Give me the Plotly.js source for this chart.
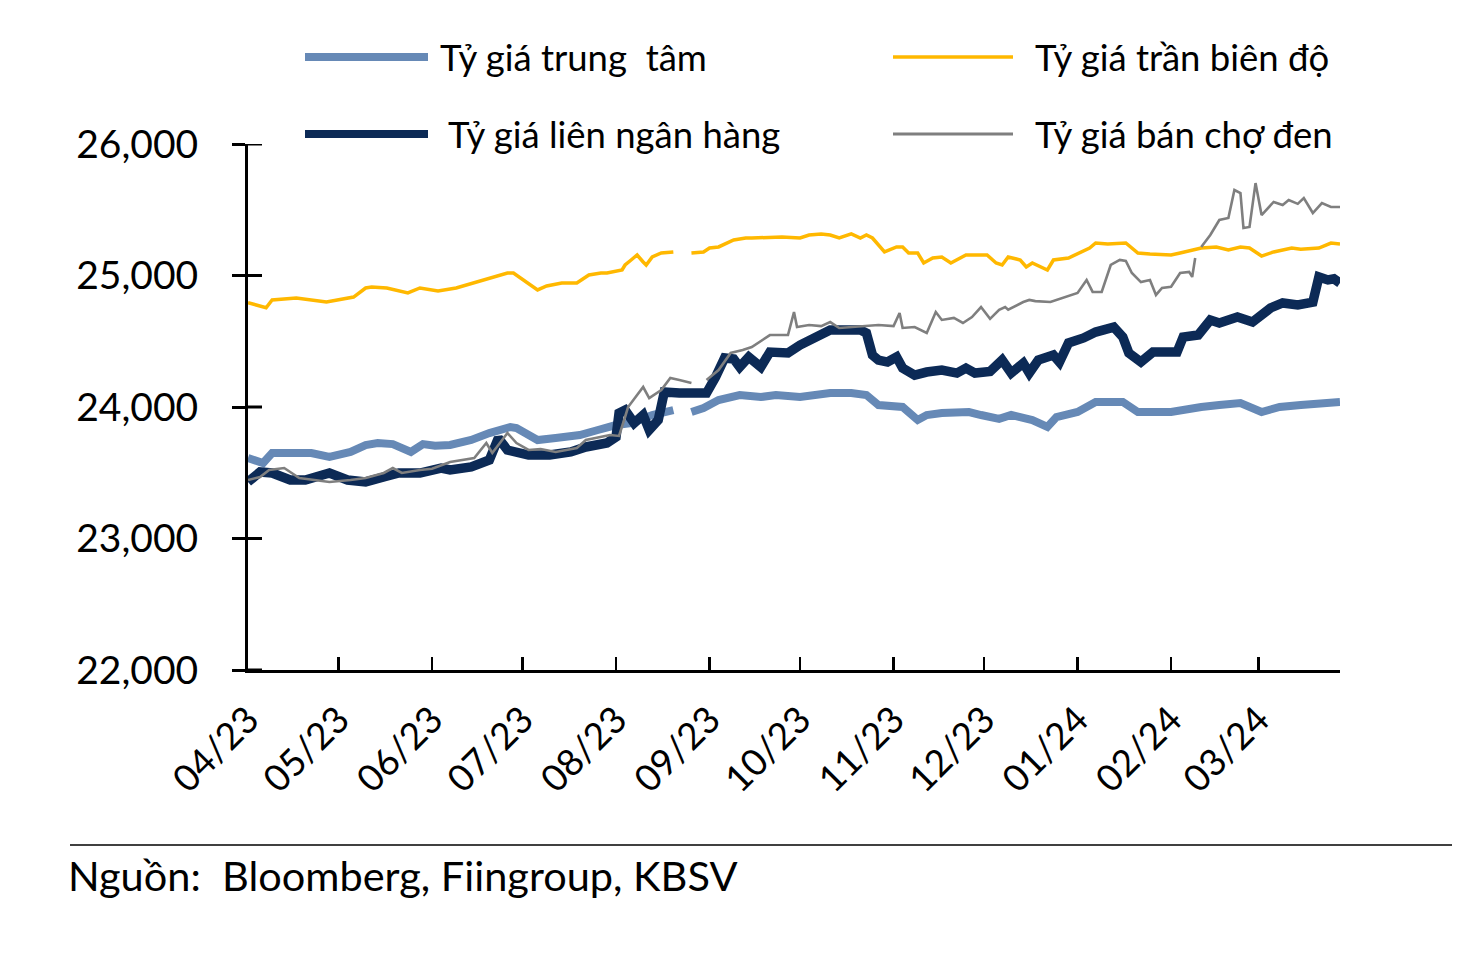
<!DOCTYPE html>
<html>
<head>
<meta charset="utf-8">
<script src="https://cdn.plot.ly/plotly-3.0.1.min.js"></script>
<style>
  html, body { margin: 0; padding: 0; background: #ffffff; }
  #chart { width: 1476px; height: 953px; }
</style>
</head>
<body>
<div id="chart"></div>
<script>
// Tỷ giá USD/VND, 04/2023 – 03/2024
const seriesNames = ["Tỷ giá trung  tâm", "Tỷ giá trần biên độ", "Tỷ giá liên ngân hàng", "Tỷ giá bán chợ đen"];
const sourceText = "Nguồn:  Bloomberg, Fiingroup, KBSV";
const yTickValues = [22000, 23000, 24000, 25000, 26000];

// Tỷ giá trung tâm
const centralDates = ["2023-04-01","2023-04-06","2023-04-09","2023-04-15","2023-04-22","2023-04-28","2023-05-05","2023-05-10","2023-05-14","2023-05-19","2023-05-25","2023-05-29","2023-06-02","2023-06-07","2023-06-14","2023-06-20","2023-06-27","2023-06-29","2023-07-06","2023-07-12","2023-07-20","2023-07-26","2023-08-01","2023-08-06","2023-08-13","2023-08-20","2023-08-23","2023-08-26","2023-08-30","2023-09-04","2023-09-11","2023-09-18","2023-09-23","2023-10-01","2023-10-08","2023-10-11","2023-10-18","2023-10-23","2023-10-27","2023-10-31","2023-11-04","2023-11-09","2023-11-12","2023-11-17","2023-11-22","2023-11-26","2023-11-30","2023-12-06","2023-12-10","2023-12-14","2023-12-17","2023-12-22","2023-12-25","2024-01-01","2024-01-07","2024-01-16","2024-01-21","2024-02-01","2024-02-04","2024-02-11","2024-02-17","2024-02-24","2024-03-02","2024-03-08","2024-03-15","2024-03-22","2024-03-28"];
const centralRate = [23612,23574,23650,23650,23650,23620,23658,23711,23726,23718,23658,23718,23705,23711,23749,23802,23848,23840,23749,23764,23787,23825,23863,23878,23939,23977,null,23962,23992,24053,24091,24076,24091,24076,24106,24106,24106,24091,24015,24000,24000,23901,23939,23954,23962,23962,23939,23910,23940,23924,23901,23848,23924,23962,24038,24038,23962,23962,23977,24000,24015,24030,23962,24000,24015,24030,24038];

// Tỷ giá trần biên độ
const ceilingDates = ["2023-04-01","2023-04-07","2023-04-09","2023-04-17","2023-04-27","2023-05-06","2023-05-10","2023-05-12","2023-05-17","2023-05-24","2023-05-28","2023-06-03","2023-06-09","2023-06-16","2023-06-26","2023-06-28","2023-07-06","2023-07-09","2023-07-14","2023-07-19","2023-07-23","2023-07-27","2023-07-29","2023-08-03","2023-08-04","2023-08-06","2023-08-08","2023-08-10","2023-08-11","2023-08-13","2023-08-16","2023-08-20","2023-08-23","2023-08-26","2023-08-30","2023-09-01","2023-09-04","2023-09-09","2023-09-13","2023-09-15","2023-09-21","2023-09-25","2023-10-01","2023-10-04","2023-10-08","2023-10-11","2023-10-14","2023-10-18","2023-10-21","2023-10-23","2023-10-25","2023-10-28","2023-10-29","2023-11-02","2023-11-04","2023-11-06","2023-11-09","2023-11-11","2023-11-14","2023-11-17","2023-11-20","2023-11-25","2023-11-28","2023-12-02","2023-12-05","2023-12-07","2023-12-09","2023-12-13","2023-12-15","2023-12-17","2023-12-22","2023-12-24","2023-12-29","2024-01-05","2024-01-07","2024-01-11","2024-01-17","2024-01-21","2024-01-25","2024-02-01","2024-02-04","2024-02-11","2024-02-16","2024-02-20","2024-02-24","2024-02-27","2024-03-02","2024-03-06","2024-03-12","2024-03-15","2024-03-21","2024-03-25","2024-03-28"];
const ceilingRate = [24793,24755,24814,24829,24798,24836,24905,24912,24905,24867,24905,24882,24905,24950,25019,25019,24890,24920,24943,24943,25004,25019,25019,25042,25080,25118,25156,25103,25080,25141,25171,25179,null,25171,25179,25209,25217,25270,25285,25285,25293,25293,25285,25308,25316,25308,25285,25316,25285,25308,25285,25209,25179,25217,25217,25171,25171,25095,25133,25141,25095,25156,25156,25156,25095,25080,25141,25118,25065,25095,25042,25118,25133,25209,25247,25240,25247,25171,25163,25156,25171,25209,25217,25194,25217,25209,25148,25179,25209,25200,25209,25247,25240];

// Tỷ giá liên ngân hàng
const interbankDates = ["2023-04-01","2023-04-05","2023-04-09","2023-04-15","2023-04-20","2023-04-28","2023-05-04","2023-05-10","2023-05-16","2023-05-21","2023-05-28","2023-06-04","2023-06-07","2023-06-14","2023-06-20","2023-06-22","2023-06-23","2023-06-26","2023-06-29","2023-07-03","2023-07-10","2023-07-17","2023-07-22","2023-07-29","2023-08-01","2023-08-02","2023-08-04","2023-08-07","2023-08-10","2023-08-12","2023-08-15","2023-08-17","2023-08-22","2023-08-29","2023-08-31","2023-09-03","2023-09-06","2023-09-09","2023-09-11","2023-09-14","2023-09-18","2023-09-21","2023-09-27","2023-10-01","2023-10-04","2023-10-08","2023-10-11","2023-10-21","2023-10-23","2023-10-25","2023-10-27","2023-10-30","2023-11-02","2023-11-04","2023-11-08","2023-11-12","2023-11-17","2023-11-22","2023-11-25","2023-11-28","2023-12-03","2023-12-07","2023-12-10","2023-12-14","2023-12-16","2023-12-19","2023-12-24","2023-12-26","2023-12-29","2024-01-03","2024-01-07","2024-01-13","2024-01-16","2024-01-18","2024-01-22","2024-01-26","2024-02-01","2024-02-03","2024-02-05","2024-02-10","2024-02-14","2024-02-17","2024-02-23","2024-02-28","2024-03-05","2024-03-09","2024-03-14","2024-03-19","2024-03-21","2024-03-24","2024-03-26","2024-03-28"];
const interbankRate = [23430,23506,23498,23445,23445,23498,23445,23430,23468,23498,23498,23536,23521,23544,23597,23696,23764,23673,23650,23635,23635,23658,23696,23726,23772,23954,23977,23878,23939,23825,23901,24114,24106,24106,24106,24228,24373,24365,24304,24380,24304,24418,24411,24471,24510,24563,24585,24585,24563,24395,24357,24342,24380,24296,24243,24266,24281,24258,24296,24258,24270,24357,24258,24334,24258,24357,24395,24342,24487,24525,24570,24608,24532,24411,24342,24418,24418,24418,24532,24547,24662,24639,24684,24646,24753,24791,24776,24798,24989,24966,24975,24943];

// Tỷ giá bán chợ đen
const blackMarketDates = ["2023-04-01","2023-04-05","2023-04-08","2023-04-13","2023-04-18","2023-04-24","2023-04-28","2023-05-05","2023-05-10","2023-05-16","2023-05-19","2023-05-22","2023-05-28","2023-06-01","2023-06-07","2023-06-15","2023-06-19","2023-06-21","2023-06-26","2023-06-29","2023-07-03","2023-07-07","2023-07-12","2023-07-19","2023-07-22","2023-07-30","2023-08-02","2023-08-04","2023-08-05","2023-08-10","2023-08-12","2023-08-16","2023-08-19","2023-08-22","2023-08-26","2023-08-28","2023-08-31","2023-09-04","2023-09-08","2023-09-12","2023-09-15","2023-09-21","2023-09-27","2023-09-29","2023-09-30","2023-10-04","2023-10-08","2023-10-11","2023-10-14","2023-10-19","2023-10-27","2023-11-01","2023-11-03","2023-11-04","2023-11-08","2023-11-12","2023-11-15","2023-11-17","2023-11-21","2023-11-24","2023-11-27","2023-11-30","2023-12-03","2023-12-06","2023-12-08","2023-12-09","2023-12-14","2023-12-16","2023-12-18","2023-12-23","2023-12-27","2024-01-01","2024-01-04","2024-01-06","2024-01-09","2024-01-12","2024-01-15","2024-01-17","2024-01-19","2024-01-22","2024-01-25","2024-01-27","2024-01-29","2024-02-01","2024-02-04","2024-02-07","2024-02-08","2024-02-09","2024-02-10","2024-02-11","2024-02-14","2024-02-17","2024-02-20","2024-02-22","2024-02-24","2024-02-25","2024-02-27","2024-02-29","2024-03-02","2024-03-06","2024-03-09","2024-03-11","2024-03-14","2024-03-16","2024-03-19","2024-03-22","2024-03-25","2024-03-28"];
const blackMarketRate = [23445,23468,23521,23536,23460,23445,23430,23445,23460,23498,23536,23498,23521,23530,23582,23612,23726,23650,23802,23726,23673,23680,23658,23688,23749,23787,23780,23924,24000,24152,24068,24129,24220,24205,24182,null,24205,24281,24411,24433,24456,24547,24547,24722,24608,24624,24615,24646,24601,24608,24624,24615,24715,24601,24608,24563,24722,24662,24677,24639,24684,24760,24670,24738,24760,24740,24798,24814,24805,24798,24829,24867,24966,24875,24875,25080,25118,25110,25019,24950,24966,24852,24905,24915,25019,25027,24989,25133,null,25217,25308,25422,25437,25650,25627,25361,25369,25703,25460,25559,25536,25574,25545,25589,25475,25551,25521,25521];

const colors = { central: "#6689b6", ceiling: "#ffb800", interbank: "#0c2a56", black: "#7f7f7f" };
const widths = { central: 8, ceiling: 3.5, interbank: 9.5, black: 2.6 };
const FONT = "Lato, 'Noto Sans', sans-serif";

const traces = [
  { x: centralDates, y: centralRate, name: seriesNames[0], line: { color: colors.central, width: widths.central } },
  { x: ceilingDates, y: ceilingRate, name: seriesNames[1], line: { color: colors.ceiling, width: widths.ceiling } },
  { x: interbankDates, y: interbankRate, name: seriesNames[2], line: { color: colors.interbank, width: widths.interbank } },
  { x: blackMarketDates, y: blackMarketRate, name: seriesNames[3], line: { color: colors.black, width: widths.black } }
].map(t => Object.assign(t, { type: "scatter", mode: "lines", connectgaps: false, hoverinfo: "skip" }));

const yRange = [22000, 26000];
const xRange = ["2023-04-01", "2024-03-28"];

// Plot area in pixels, used to place the hand-drawn legend, inner tick marks and footer
const W = 1476, H = 953;
const M = { l: 248, r: 136, t: 144, b: 283 };
const pw = W - M.l - M.r, ph = H - M.t - M.b;
const px = v => (v - M.l) / pw;
const py = v => (H - M.b - v) / ph;

// Legend: sample line + label, two columns
const legendItems = [
  { label: seriesNames[0], color: colors.central, width: 8, x0: 305, x1: 428, tx: 438, y: 57 },
  { label: seriesNames[1], color: colors.ceiling, width: 3.5, x0: 893, x1: 1013, tx: 1033, y: 57 },
  { label: seriesNames[2], color: colors.interbank, width: 8, x0: 305, x1: 428, tx: 446, y: 134 },
  { label: seriesNames[3], color: colors.black, width: 3, x0: 893, x1: 1013, tx: 1033, y: 134 }
];

const shapes = legendItems.map(it => ({
  type: "line", xref: "paper", yref: "paper",
  x0: px(it.x0), x1: px(it.x1), y0: py(it.y), y1: py(it.y),
  line: { color: it.color, width: it.width }
}));
// inner half of the cross-shaped y ticks
yTickValues.forEach(v => shapes.push({
  type: "line", xref: "paper", yref: "y", x0: 0, x1: 14 / pw, y0: v, y1: v,
  line: { color: "#000", width: 3 }
}));
// footer rule
shapes.push({ type: "line", xref: "paper", yref: "paper", x0: px(70), x1: px(1452), y0: py(845), y1: py(845), line: { color: "#000", width: 1.5 } });

const annotations = legendItems.map(it => ({
  xref: "paper", yref: "paper", x: px(it.tx), y: py(it.y), xanchor: "left", yanchor: "middle",
  text: it.label, showarrow: false, font: { family: FONT, size: 36.5, color: "#000" }
}));
annotations.push({
  xref: "paper", yref: "paper", x: px(66), y: py(875), xanchor: "left", yanchor: "middle",
  text: sourceText, showarrow: false, font: { family: FONT, size: 41.5, color: "#000" }
});

const layout = {
  width: W, height: H,
  margin: M,
  paper_bgcolor: "#fff", plot_bgcolor: "#fff",
  showlegend: false,
  font: { family: FONT, color: "#000" },
  xaxis: {
    type: "date", range: xRange,
    tick0: "2023-04-01", dtick: "M1", tickformat: "%m/%y",
    tickangle: -45, ticks: "inside", ticklen: 13, tickwidth: 2.5, tickcolor: "#000",
    ticklabelstandoff: 10,
    showline: true, linecolor: "#000", linewidth: 3,
    showgrid: false, zeroline: false,
    tickfont: { family: FONT, size: 37, color: "#000" }
  },
  yaxis: {
    range: yRange, tickmode: "array", tickvals: yTickValues, tickformat: ",d",
    ticks: "outside", ticklen: 13, tickwidth: 3, tickcolor: "#000",
    ticklabelstandoff: 26,
    showline: true, linecolor: "#000", linewidth: 3,
    showgrid: false, zeroline: false,
    tickfont: { family: FONT, size: 39, color: "#000" }
  },
  shapes: shapes,
  annotations: annotations
};

Plotly.newPlot("chart", traces, layout, { staticPlot: true, displayModeBar: false });
</script>
</body>
</html>
